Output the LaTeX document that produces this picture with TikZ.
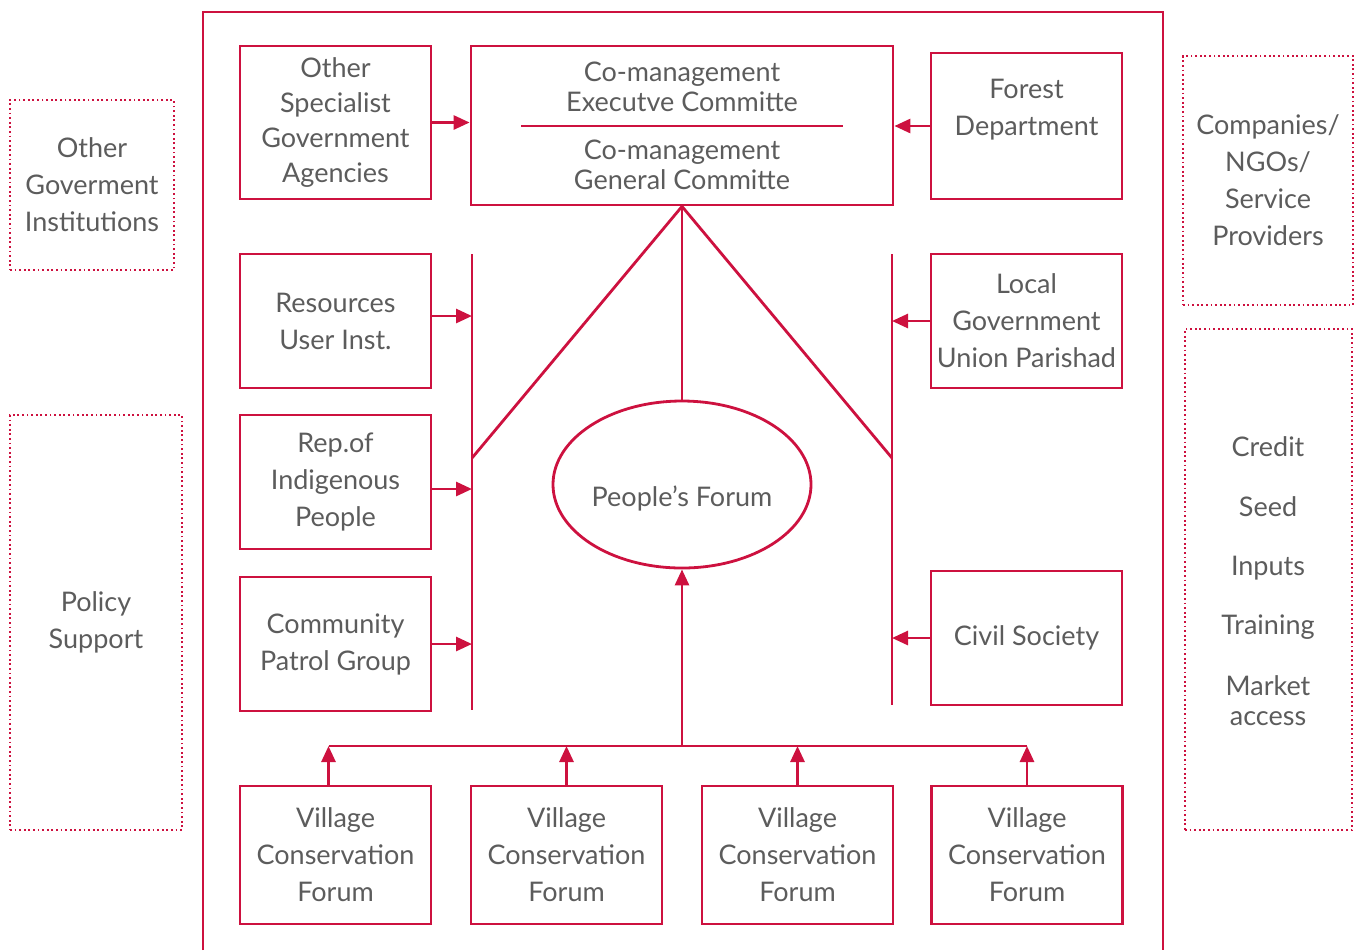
\documentclass[tikz,border=0pt]{standalone}
\usepackage{fontspec}
\setmainfont{Lato}
\usepackage{xcolor}
\usepackage{tikz}
\usetikzlibrary{arrows.meta,shapes.geometric}
\definecolor{crimson}{RGB}{205, 17, 63}
\definecolor{txtgrey}{RGB}{92, 92, 92}

\tikzset{
  box/.style={draw=crimson, line width=1.4pt, inner sep=0pt, minimum width=95.5pt,
    minimum height=67pt, align=center, text=txtgrey, font=\fontsize{13.5}{18.5}\selectfont},
  dotbox/.style={draw=crimson, line width=1.1pt, dash pattern=on 0.9pt off 1.4pt, inner sep=0pt,
    align=center, text=txtgrey, font=\fontsize{13.5}{18.5}\selectfont},
  txt/.style={inner sep=0pt, align=center, text=txtgrey, font=\fontsize{13.5}{15}\selectfont},
  wire/.style={crimson, line width=1.4pt},
  arr/.style={wire, -{Triangle[length=8pt,width=7pt]}}
}

\begin{document}
\begin{tikzpicture}[x=0.5pt,y=-0.5pt]
\useasboundingbox (0,0) rectangle (1354,950);
% outer frame, open at the bottom
\draw[wire] (203,950) -- (203,12) -- (1163,12) -- (1163,950);

% outside support boxes
\node[dotbox, minimum width=82pt, minimum height=85pt] (ogi) at (92,185) {Other\\Goverment\\Institutions};
\node[dotbox, minimum width=86pt, minimum height=207.5pt] (pols) at (96,622.5) {Policy\\Support};
\node[dotbox, minimum width=85pt, minimum height=124.5pt] (cngo) at (1268,180.5) {Companies/\\NGOs/\\Service\\Providers};
\node[dotbox, minimum width=83.5pt, minimum height=250.5pt] (serv) at (1268.5,579.5) {};
\node[txt] (credit) at (1268,447) {Credit};
\node[txt] (seed) at (1268,507) {Seed};
\node[txt] (inputs) at (1268,568) {Inputs};
\node[txt] (training) at (1268,627) {Training};
\node[txt] (market) at (1268,701) {Market\\access};

% top row
\node[box, minimum height=76.5pt, font=\fontsize{13.5}{17.5}\selectfont] (osga) at (335.5,122.5) {Other\\Specialist\\Government\\Agencies};
\node[box, minimum width=211pt, minimum height=79.5pt] (cm) at (682,125.5) {};
\node[txt] (cmexec) at (682,87) {Co-management\\Executve Committe};
\node[txt] (cmgen) at (682,165) {Co-management\\General Committe};
\draw[wire] (521,126) -- (843,126);
\node[box, minimum height=73pt] (fd) at (1026.5,126) {Forest\\Department\\~};

\draw[arr] (osga.east) -- (cm.west |- osga.east);
\draw[arr] (fd.west) -- (cm.east |- fd.west);

% side bars
\coordinate (lbtop) at (472,254);
\coordinate (lbbot) at (472,710);
\coordinate (rbtop) at (892,254);
\coordinate (rbbot) at (892,705);
\coordinate (lmeet) at (472,458);
\coordinate (rmeet) at (892,458);
\draw[wire] (lbtop) -- (lbbot);
\draw[wire] (rbtop) -- (rbbot);

% left column
\node[box] (rui) at (335.5,321) {Resources\\User Inst.};
\node[box] (rip) at (335.5,482) {Rep.of\\Indigenous\\People};
\node[box] (cpg) at (335.5,644) {Community\\Patrol Group};
\draw[arr] ([yshift=2.5pt]rui.east) -- ([yshift=2.5pt]rui.east -| lbtop);
\draw[arr] ([yshift=-3.5pt]rip.east) -- ([yshift=-3.5pt]rip.east -| lbtop);
\draw[arr] (cpg.east) -- (cpg.east -| lbtop);

% right column
\node[box] (lgup) at (1026.5,321) {Local\\Government\\Union Parishad};
\node[box] (cs) at (1026.5,638) {Civil Society};
\draw[arr] (lgup.west) -- (lgup.west -| rbtop);
\draw[arr] (cs.west) -- (cs.west -| rbtop);

% forum
\node[ellipse, draw=crimson, line width=1.4pt, minimum width=129pt, minimum height=83.5pt,
  inner sep=0pt] (pf) at (682,484.5) {};
\node[txt] (pftext) at (682,498) {People’s Forum};
\draw[wire] (cm.south) -- (lmeet);
\draw[wire] (cm.south) -- (rmeet);
\draw[wire] (cm.south) -- (pf.north);

% village forums
\coordinate (hbar) at (682,746);
\foreach \i/\x in {1/335.5, 2/566.5, 3/797.5, 4/1027}
  \node[box, minimum height=69pt] (vcf\i) at (\x,855) {Village\\Conservation\\Forum};
\draw[wire] ([xshift=-3.5pt]vcf1.north |- hbar) -- (vcf4.north |- hbar);
\draw[arr] ([xshift=-3.5pt]vcf1.north) -- ([xshift=-3.5pt]vcf1.north |- hbar);
\foreach \i in {2,...,4}
  \draw[arr] (vcf\i.north) -- (vcf\i.north |- hbar);
\draw[arr] (hbar) -- (pf.south);
\end{tikzpicture}
\end{document}
